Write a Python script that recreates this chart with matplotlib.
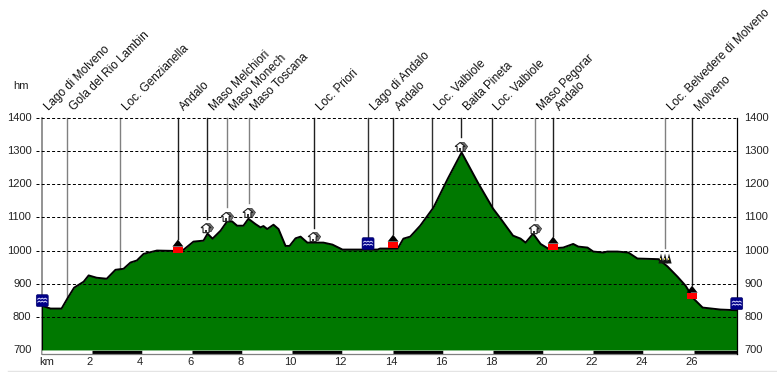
import matplotlib
matplotlib.use("Agg")
import matplotlib.pyplot as plt
from matplotlib.patches import FancyBboxPatch, Rectangle, Polygon
from matplotlib.lines import Line2D
from matplotlib.transforms import Affine2D, ScaledTranslation

plt.rcParams['font.family'] = ['Liberation Sans', 'DejaVu Sans']

km = [0.0,0.36,0.8,1.03,1.3,1.68,1.88,2.2,2.6,2.95,3.27,3.55,3.8,4.07,4.6,5.27,5.67,6.06,6.46,6.62,6.82,7.14,7.4,7.6,7.8,8.05,8.25,8.53,8.73,8.85,9.0,9.25,9.45,9.73,9.89,10.13,10.33,10.6,11.24,11.6,12.0,13.4,13.5,14.2,14.43,14.7,15.1,15.63,16.2,16.75,17.4,18.0,18.3,18.8,19.1,19.3,19.6,19.9,20.2,20.8,21.2,21.4,21.77,22.0,22.4,22.56,22.96,23.4,23.76,24.6,24.96,25.36,25.68,26.0,26.36,27.07,27.72]
elev = [834,825,825,855,888,906,925,918,915,942,945,964,970,990,1000,999,1003,1027,1030,1051,1036,1060,1088,1088,1075,1075,1096,1080,1070,1074,1065,1078,1065,1014,1014,1037,1042,1024,1024,1018,1003,1003,1006,1006,1036,1042,1075,1130,1217,1296,1205,1127,1097,1045,1036,1024,1051,1020,1006,1009,1020,1012,1009,997,994,997,997,994,976,974,952,921,894,855,828,822,820]

poi_names = ["Lago di Molveno","Gola del Rio Lambin","Loc. Genzianella","Andalo","Maso Melchiori","Maso Monech","Maso Toscana","Loc. Priori","Lago di Andalo","Andalo","Loc. Valbiole","Baita Pineta","Loc. Valbiole","Maso Pegorar","Andalo","Loc. Belvedere di Molveno","Molveno"]
poi_km = [0.03,1.02,3.13,5.44,6.6,7.4,8.27,10.87,13.02,14.02,15.57,16.73,17.96,19.68,20.4,24.86,25.94]
poi_elev = [849,855,945,994,1054,1088,1100,1027,1021,1009,1130,1299,1127,1051,1003,961,855]
poi_kind = ["water","none","none","town","hut","hut","hut","hut","water","town","none","hut","none","hut","town","trees","town"]
poi_color = ["#808080","#808080","#808080","#202020","#202020","#808080","#808080","#202020","#303030","#202020","#303030","#202020","#202020","#808080","#202020","#808080","#202020"]
end_km = 27.72
end_elev = 840

y_ticks = [700,800,900,1000,1100,1200,1300,1400]
x_ticks = [2,4,6,8,10,12,14,16,18,20,22,24,26]
W, H = 777, 372
TXT = '#222222'
fig = plt.figure(figsize=(W/100, H/100), dpi=100, facecolor='white')
ax = fig.add_axes([41.5/W, 1-350/H, (737.5-41.5)/W, (350-118)/H])
ax.set_xlim(0, 27.75)
ax.set_ylim(700, 1400)
for s in ax.spines.values():
    s.set_visible(False)
ax.set_xticks([]); ax.set_yticks([])
ax.patch.set_alpha(0)

PX = 700 / 232  # elevation units per pixel

# filled terrain
ax.fill_between(km, elev, 700, color='#007800', lw=0, zorder=2)
ax.plot(km, elev, color='black', lw=1.4, zorder=3, solid_joinstyle='round')
ax.plot([0, 0], [700, elev[0]], color='black', lw=0.8, zorder=3)

# grid and tick labels
for v in y_ticks:
    if v != 700:
        ax.plot([-0.2, 27.72], [v, v], color='black', lw=0.72, dashes=(3, 2.2), zorder=2.5, clip_on=False)
    ax.text(-0.4, v, str(v), ha='right', va='center', fontsize=8, color=TXT, clip_on=False)
    ax.text(28.03, v, str(v), ha='left', va='center', fontsize=8, color=TXT, clip_on=False)
ax.text(-0.8, 1498, "hm", ha='center', va='center', fontsize=8, color=TXT)
ax.text(0.2, 664, "km", ha='center', va='center', fontsize=8, color=TXT)
for t in x_ticks:
    ax.text(t - 0.07, 664, str(t), ha='center', va='center', fontsize=8, color=TXT)

# distance strip
edges = [0] + x_ticks + [27.72]
for i in range(len(edges)-1):
    c = 'white' if i % 2 == 0 else 'black'
    ax.plot([edges[i], edges[i+1]], [695, 695], color=c, lw=2.3, solid_capstyle='butt', clip_on=False, zorder=2)
ax.plot([0, 27.72], [689, 689], color='#808080', lw=0.9, clip_on=False, zorder=2)
ax.plot([0, 0], [689, 1400], color='#808080', lw=1.2, clip_on=False, zorder=1.9)
ax.plot([27.72, 27.72], [689, 1400], color='black', lw=0.9, clip_on=False, zorder=3.5)
fig.add_artist(Line2D([8/W, 1], [1-371/H, 1-371/H], color='#e4e4e4', lw=1))

def poly(pts, tr, fc, ec='none', lw=0.0, z=6):
    ax.add_patch(Polygon(pts, closed=True, transform=tr, fc=fc, ec=ec, lw=lw, zorder=z, clip_on=False))

def marker(x, y, kind):
    # icon shapes are in pixels, anchored on the data point
    tr = Affine2D() + ScaledTranslation(x, y, ax.transData)
    if kind == "water":
        ax.add_patch(FancyBboxPatch((-4.5, -4.5), 9, 9, boxstyle="round,pad=1.5,rounding_size=1.5",
                     transform=tr, fc='#000088', ec='#000060', lw=0.4, zorder=6, clip_on=False))
        for dy in (1.5, -1.5):
            xs = [-4.5, -3, -1.5, 0, 1.5, 3, 4.5]
            ys = [dy, dy+1, dy, dy+1, dy, dy+1, dy]
            ax.add_line(Line2D(xs, ys, color='#d8d8ff', lw=0.7, transform=tr, zorder=7, clip_on=False))
    elif kind == "town":
        poly([(-5, 0), (5, 0), (5, 6), (-5, 6)], tr, '#ff0000')
        poly([(-5.5, 6), (5.5, 6), (0, 13)], tr, 'black')
    elif kind == "hut":
        poly([(-1, 9), (3, 9), (6.5, 5), (4, 1), (1, 1)], tr, '#707070', '#303030', 0.5, 5.5)
        poly([(-4, 0), (2, 0), (2, 5), (4, 5), (-1, 9), (-6, 5), (-4, 5)], tr, 'white', '#202020', 0.8)
        poly([(-2, 0), (0, 0), (0, 3), (-2, 3)], tr, '#303030', z=7)
    elif kind == "trees":
        for d in (-4, 0, 4):
            poly([(d-2.6, 0), (d+2.6, 0), (d, 10)], tr, '#151515')
            poly([(d-1, 3), (d, 3), (d, 5), (d-1, 5)], tr, '#e8d850', z=7)

gap = {"water": 12, "town": 14, "hut": 14, "trees": 15, "none": 0}
for name, x, y, kind, col in zip(poi_names, poi_km, poi_elev, poi_kind, poi_color):
    if x > 0.1:
        ax.plot([x, x], [1400, y + gap[kind] * PX / (2 if kind == "water" else 1)],
                color=col, lw=1.0, zorder=1.6, clip_on=False)
    if kind != "none":
        marker(x, y, kind)
    ax.annotate(name, xy=(x, 1400), xytext=(6.5, 7), textcoords='offset pixels',
                rotation=45, rotation_mode='anchor', ha='left', va='baseline', fontsize=8.5, color='#111111',
                annotation_clip=False)
marker(end_km, end_elev, "water")
fig.savefig("out.png", dpi=100)
